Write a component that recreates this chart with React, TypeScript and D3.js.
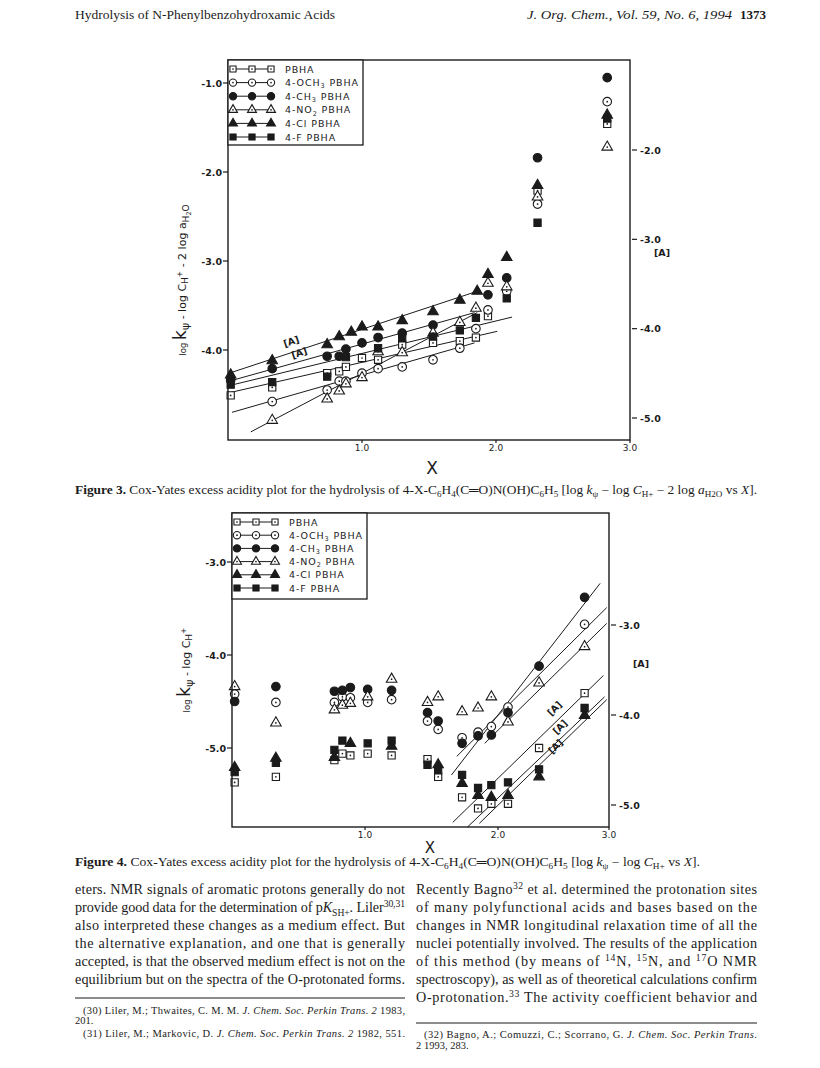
import React from 'react';
import * as d3 from 'd3';

type Pt = [number, number];
type Seg = [number, number, number, number];

const INK = '#1b1b1b';
const PLOT_FONT = 'DejaVu Sans, sans-serif';
const TEXT_FONT = 'Liberation Serif, serif';

// series shared by both figures
const SERIES_LABELS = ['PBHA', '4-OCH_{3} PBHA', '4-CH_{3} PBHA', '4-NO_{2} PBHA', '4-Cl  PBHA', '4-F  PBHA'];
const SERIES_MARKS = ['squareOpen', 'circleOpen', 'circleFilled', 'triangleOpen', 'triangleFilled', 'squareFilled'];

// ---------- Figure 3 : log k - log CH+ - 2 log aH2O vs X ----------
const F3_PBHA: Pt[] = [[0.02, -4.51], [0.33, -4.42], [0.74, -4.26], [0.83, -4.24], [0.88, -4.19], [1.0, -4.09], [1.12, -4.11], [1.3, -3.94], [1.53, -3.92], [1.73, -3.9], [1.85, -3.86], [1.94, -3.62], [2.31, -2.21], [2.83, -1.46]];
const F3_OME: Pt[] = [[0.33, -4.58], [0.74, -4.45], [0.83, -4.35], [0.88, -4.35], [1.0, -4.26], [1.12, -4.21], [1.3, -4.19], [1.53, -4.11], [1.73, -3.98], [1.85, -3.76], [1.94, -3.55], [2.08, -3.34], [2.31, -2.36], [2.83, -1.21]];
const F3_ME: Pt[] = [[0.02, -4.34], [0.33, -4.21], [0.74, -4.07], [0.83, -4.07], [0.88, -3.99], [1.0, -3.92], [1.12, -3.86], [1.3, -3.81], [1.53, -3.72], [1.94, -3.38], [2.08, -3.19], [2.31, -1.84], [2.83, -0.94]];
const F3_NO2: Pt[] = [[0.33, -4.79], [0.74, -4.55], [0.83, -4.46], [0.88, -4.38], [1.0, -4.31], [1.12, -4.02], [1.3, -4.03], [1.53, -3.81], [1.73, -3.69], [1.85, -3.53], [1.94, -3.25], [2.08, -3.29], [2.31, -2.28], [2.83, -1.72]];
const F3_CL: Pt[] = [[0.02, -4.28], [0.33, -4.12], [0.74, -3.94], [0.83, -3.85], [0.92, -3.8], [1.0, -3.74], [1.12, -3.74], [1.3, -3.67], [1.53, -3.57], [1.73, -3.44], [1.86, -3.34], [1.94, -3.15], [2.08, -2.96], [2.31, -2.15], [2.83, -1.36]];
const F3_F: Pt[] = [[0.02, -4.39], [0.33, -4.36], [0.74, -4.3], [0.88, -4.08], [1.12, -3.98], [1.3, -3.87], [1.53, -3.85], [1.73, -3.78], [1.85, -3.64], [2.08, -3.42], [2.31, -2.57], [2.83, -1.4]];
const F3_POINTS = [F3_PBHA, F3_OME, F3_ME, F3_NO2, F3_CL, F3_F];
// fitted lines [x0, y0, x1, y1]
const F3_FITS: Seg[] = [
  [0.01, -4.48, 2.01, -3.79],
  [0.03, -4.7, 1.84, -3.92],
  [0.01, -4.35, 1.84, -3.58],
  [0.17, -4.92, 1.86, -3.58],
  [0.01, -4.26, 1.86, -3.34],
  [0.01, -4.4, 2.12, -3.63],
];
const F3_X_TICKS = [1, 2, 3];
const F3_Y_TICKS = [-1, -2, -3, -4];
const F3_YR_TICKS = [-2, -3, -4, -5];
const F3_A_NOTES: Pt[] = [[0.48, -3.94], [0.54, -4.07]];

// ---------- Figure 4 : log k - log CH+ vs X ----------
const F4_PBHA: Pt[] = [[0.02, -5.37], [0.33, -5.31], [0.77, -5.13], [0.83, -5.06], [0.89, -5.08], [1.02, -5.06], [1.2, -5.08], [1.47, -5.12], [1.55, -5.31], [1.73, -5.53], [1.85, -5.65], [1.95, -5.6], [2.09, -5.6], [2.37, -5.0], [2.78, -4.41]];
const F4_OME: Pt[] = [[0.02, -4.42], [0.33, -4.51], [0.77, -4.51], [0.83, -4.45], [0.89, -4.46], [1.02, -4.51], [1.2, -4.48], [1.47, -4.71], [1.55, -4.8], [1.73, -4.89], [1.85, -4.83], [1.95, -4.77], [2.09, -4.56], [2.78, -3.67]];
const F4_ME: Pt[] = [[0.02, -4.5], [0.33, -4.34], [0.77, -4.39], [0.83, -4.38], [0.89, -4.35], [1.02, -4.37], [1.2, -4.38], [1.47, -4.62], [1.55, -4.71], [1.73, -4.95], [1.85, -4.87], [1.95, -4.86], [2.09, -4.62], [2.37, -4.12], [2.78, -3.38]];
const F4_NO2: Pt[] = [[0.02, -4.34], [0.33, -4.73], [0.77, -4.59], [0.83, -4.54], [0.89, -4.52], [1.02, -4.45], [1.2, -4.26], [1.47, -4.51], [1.55, -4.45], [1.73, -4.61], [1.85, -4.57], [1.95, -4.45], [2.09, -4.72], [2.37, -4.3], [2.78, -3.91]];
const F4_CL: Pt[] = [[0.02, -5.21], [0.33, -5.11], [0.77, -5.1], [0.89, -4.95], [1.2, -4.98], [1.55, -5.18], [1.73, -5.38], [1.85, -5.51], [1.95, -5.53], [2.09, -5.51], [2.37, -5.31], [2.78, -4.65]];
const F4_F: Pt[] = [[0.02, -5.26], [0.33, -5.16], [0.77, -5.02], [0.83, -4.92], [1.02, -4.95], [1.2, -4.92], [1.47, -5.18], [1.55, -5.24], [1.73, -5.29], [1.85, -5.43], [1.95, -5.4], [2.09, -5.37], [2.37, -5.23], [2.78, -4.57]];
const F4_POINTS = [F4_PBHA, F4_OME, F4_ME, F4_NO2, F4_CL, F4_F];
const F4_FITS: Seg[] = [
  [1.66, -5.8, 2.95, -4.22],
  [1.69, -5.09, 2.98, -3.49],
  [1.65, -5.29, 2.92, -3.23],
  [1.9, -4.95, 2.98, -3.66],
  [1.86, -5.81, 2.98, -4.48],
  [1.77, -5.85, 2.96, -4.45],
];
const F4_X_TICKS = [1, 2, 3];
const F4_Y_TICKS = [-3, -4, -5];
const F4_YR_TICKS = [-3, -4, -5];
const F4_A_NOTES: Pt[] = [[2.53, -4.6], [2.58, -4.8], [2.54, -5.01]];

// ---------- page text ----------
const HEADER_LEFT = 'Hydrolysis of N-Phenylbenzohydroxamic Acids';
const HEADER_RIGHT = 'J. Org. Chem., Vol. 59, No. 6, 1994';
const PAGE_NO = '1373';
const CAPTION_3 = '#Figure 3.#  Cox-Yates excess acidity plot for the hydrolysis of 4-X-C_{6}H_{4}(C═O)N(OH)C_{6}H_{5} [log *k*_{ψ} − log *C*_{H+} − 2 log *a*_{H2O} vs *X*].';
const CAPTION_4 = '#Figure 4.#  Cox-Yates excess acidity plot for the hydrolysis of 4-X-C_{6}H_{4}(C═O)N(OH)C_{6}H_{5} [log *k*_{ψ} − log *C*_{H+} vs *X*].';
const LEFT_LINES = [
  'eters. NMR signals of aromatic protons generally do not',
  'provide good data for the determination of p*K*_{SH+}. Liler^{30,31}',
  'also interpreted these changes as a medium effect. But',
  'the alternative explanation, and one that is generally',
  'accepted, is that the observed medium effect is not on the',
  'equilibrium but on the spectra of the O-protonated forms.',
];
const RIGHT_LINES = [
  'Recently Bagno^{32} et al. determined the protonation sites',
  'of many polyfunctional acids and bases based on the',
  'changes in NMR longitudinal relaxation time of all the',
  'nuclei potentially involved. The results of the application',
  'of this method (by means of ^{14}N, ^{15}N, and ^{17}O NMR',
  'spectroscopy), as well as of theoretical calculations confirm',
  'O-protonation.^{33}  The activity coefficient behavior and',
];
const FOOT_LEFT = [
  '(30) Liler, M.; Thwaites, C. M. M. *J. Chem. Soc. Perkin Trans. 2* 1983,',
  '201.',
  '(31) Liler, M.; Markovic, D. *J. Chem. Soc. Perkin Trans. 2* 1982, 551.',
];
const FOOT_RIGHT = [
  '(32) Bagno, A.; Comuzzi, C.; Scorrano, G. *J. Chem. Soc. Perkin Trans.*',
  '2 1993, 283.',
];

// tiny markup: ^{sup} _{sub} *italic* #bold#
function rich(s: string, fs: number) {
  const parts = s.split(/(\^\{[^}]*\}|_\{[^}]*\}|\*[^*]+\*|#[^#]+#)/).filter(Boolean);
  let shift = 0;
  return parts.map((p, i) => {
    if (p.startsWith('^{') || p.startsWith('_{')) {
      const off = p[0] === '^' ? -fs * 0.38 : fs * 0.25;
      const dy = off - shift;
      shift = off;
      return <tspan key={i} dy={dy} fontSize={fs * 0.68}>{p.slice(2, -1)}</tspan>;
    }
    const dy = -shift;
    shift = 0;
    if (p.startsWith('*')) return <tspan key={i} dy={dy} fontStyle="italic">{p.slice(1, -1)}</tspan>;
    if (p.startsWith('#')) return <tspan key={i} dy={dy} fontWeight="bold">{p.slice(1, -1)}</tspan>;
    return <tspan key={i} dy={dy}>{p}</tspan>;
  });
}

function Marker({ kind, x, y, k = 1 }: { kind: string; x: number; y: number; k?: number }) {
  const shape = kind.startsWith('square') ? d3.symbolSquare : kind.startsWith('circle') ? d3.symbolCircle : d3.symbolTriangle;
  const filled = kind.endsWith('Filled');
  const base = shape === d3.symbolTriangle ? 48 : shape === d3.symbolSquare ? 52 : 58;
  const d = d3.symbol().type(shape).size(base * k * k)() || '';
  return (
    <g transform={`translate(${x},${y})`}>
      <path d={d} fill={filled ? INK : '#fff'} stroke={INK} strokeWidth={1.1} />
      {!filled && <circle r={0.85} fill={INK} />}
    </g>
  );
}

interface PanelProps {
  x: d3.ScaleLinear<number, number>;
  y: d3.ScaleLinear<number, number>;
  yr: d3.ScaleLinear<number, number>;
  top: number;
  bottom: number;
  points: Pt[][];
  fits: Seg[];
  xTicks: number[];
  yTicks: number[];
  yrTicks: number[];
  notes: Pt[];
  noteAngle: number;
  rightA: number;
  legendW: number;
  legendH: number;
  legendStep: number;
}

function Panel(p: PanelProps) {
  const left = p.x(0);
  const right = p.x(3);
  const line = d3.line<Pt>().x(d => p.x(d[0])).y(d => p.y(d[1]));
  return (
    <g fontFamily={PLOT_FONT} fill={INK}>
      {p.fits.map((f, i) => (
        <path key={'f' + i} d={line([[f[0], f[1]], [f[2], f[3]]]) || ''} stroke={INK} strokeWidth={1} fill="none" />
      ))}
      {p.points.map((s, i) => s.map((d, j) => <Marker key={i + '-' + j} kind={SERIES_MARKS[i]} x={p.x(d[0])} y={p.y(d[1])} />))}
      <rect x={left} y={p.top} width={right - left} height={p.bottom - p.top} fill="none" stroke={INK} strokeWidth={1.4} />
      {p.yTicks.map(t => (
        <g key={'yl' + t}>
          <line x1={left - 5} x2={left} y1={p.y(t)} y2={p.y(t)} stroke={INK} strokeWidth={1.2} />
          <text x={left - 6} y={p.y(t) + 3.5} textAnchor="end" fontSize={9.5} fontWeight="bold">{t.toFixed(1)}</text>
        </g>
      ))}
      {p.yrTicks.map(t => (
        <g key={'yr' + t}>
          <line x1={right + 2} x2={right + 7} y1={p.yr(t)} y2={p.yr(t)} stroke={INK} strokeWidth={1.2} />
          <text x={right + 10} y={p.yr(t) + 3.5} fontSize={9.5} fontWeight="bold">{t.toFixed(1)}</text>
        </g>
      ))}
      <text x={right + 24} y={p.yr(p.rightA) + 4} fontSize={9.5} fontWeight="bold">[A]</text>
      {p.xTicks.map(t => (
        <g key={'x' + t}>
          <line x1={p.x(t)} x2={p.x(t)} y1={p.bottom} y2={p.bottom + 3} stroke={INK} strokeWidth={1.2} />
          <text x={p.x(t)} y={p.bottom + 11} textAnchor="middle" fontSize={9}>{t.toFixed(1)}</text>
        </g>
      ))}
      {p.notes.map((n, i) => (
        <text key={'n' + i} transform={`translate(${p.x(n[0])},${p.y(n[1])}) rotate(${p.noteAngle})`} textAnchor="middle" fontSize={9.5} fontWeight="bold">[A]</text>
      ))}
      <rect x={left} y={p.top} width={p.legendW} height={p.legendH} fill="#fff" stroke={INK} strokeWidth={1.3} />
      {SERIES_LABELS.map((lab, i) => {
        const yy = p.top + 9 + i * p.legendStep;
        return (
          <g key={'lg' + i}>
            <line x1={left + 5} x2={left + 43} y1={yy} y2={yy} stroke={INK} strokeWidth={1} />
            {[0, 1, 2].map(k => <Marker key={k} kind={SERIES_MARKS[i]} x={left + 5 + k * 19} y={yy} k={0.85} />)}
            <text x={left + 57} y={yy + 3.5} fontSize={9.5} letterSpacing={0.9}>{rich(lab, 9.5)}</text>
          </g>
        );
      })}
    </g>
  );
}

function Lines({ lines, x, ys, ws, fs, indent = [] }: { lines: string[]; x: number; ys: number[]; ws: (number | null)[]; fs: number; indent?: number[] }) {
  return (
    <g fontFamily={TEXT_FONT} fontSize={fs} fill={INK}>
      {lines.map((l, i) => {
        const w = ws[i];
        const dx = indent[i] || 0;
        return w ? (
          <text key={i} x={x + dx} y={ys[i]} textLength={w - dx} lengthAdjust="spacing">{rich(l, fs)}</text>
        ) : (
          <text key={i} x={x + dx} y={ys[i]}>{rich(l, fs)}</text>
        );
      })}
    </g>
  );
}

export default function App() {
  const x3 = d3.scaleLinear().domain([0, 3]).range([228, 630]);
  const y3 = d3.scaleLinear().domain([-1, -4]).range([83, 350]);
  const y3r = d3.scaleLinear().domain([-2, -5]).range([150, 418]);
  const x4 = d3.scaleLinear().domain([0, 1, 2, 3]).range([232, 365, 498, 609]);
  const y4 = d3.scaleLinear().domain([-3, -5]).range([562, 748]);
  const y4r = d3.scaleLinear().domain([-3, -5]).range([625, 805]);
  const bodyY = (n: number) => d3.range(n).map(i => 894 + i * 18);

  return (
    <svg width={820} height={1068} style={{ position: 'absolute', left: 0, top: 0, background: '#fff' }}>
      <rect width={820} height={1068} fill="#fff" />
      <g fontFamily={TEXT_FONT} fontSize={13} fill={INK}>
        <text x={75} y={19} textLength={260} lengthAdjust="spacingAndGlyphs">{HEADER_LEFT}</text>
        <text x={527} y={19} fontStyle="italic" textLength={205} lengthAdjust="spacingAndGlyphs">{HEADER_RIGHT}</text>
        <text x={766} y={19} textAnchor="end" fontWeight="bold">{PAGE_NO}</text>
      </g>

      <Panel x={x3} y={y3} yr={y3r} top={60} bottom={440} points={F3_POINTS} fits={F3_FITS}
        xTicks={F3_X_TICKS} yTicks={F3_Y_TICKS} yrTicks={F3_YR_TICKS} notes={F3_A_NOTES} noteAngle={-18}
        rightA={-3.14} legendW={135} legendH={85} legendStep={13.6} />
      <text transform="translate(186,280) rotate(-90)" textAnchor="middle" fontFamily={PLOT_FONT} fontSize={11} fill={INK}>
        <tspan fontSize={8.5}>log </tspan><tspan fontSize={17}>k</tspan><tspan dy={3} fontSize={11}>ψ</tspan>
        <tspan dy={-3}> - log  C</tspan><tspan dy={2} fontSize={9}>H</tspan><tspan dy={-6} fontSize={7.5}>+</tspan>
        <tspan dy={4}> - 2  log  a</tspan><tspan dy={3} fontSize={9}>H</tspan><tspan dy={2} fontSize={6.5}>2</tspan><tspan dy={-2} fontSize={9}>O</tspan>
      </text>
      <text x={432} y={474} textAnchor="middle" fontFamily={PLOT_FONT} fontSize={17} fill={INK}>X</text>
      <text x={75} y={494} fontFamily={TEXT_FONT} fontSize={11.5} fill={INK} textLength={682} lengthAdjust="spacingAndGlyphs">{rich(CAPTION_3, 11.5)}</text>

      <Panel x={x4} y={y4} yr={y4r} top={513} bottom={827} points={F4_POINTS} fits={F4_FITS}
        xTicks={F4_X_TICKS} yTicks={F4_Y_TICKS} yrTicks={F4_YR_TICKS} notes={F4_A_NOTES} noteAngle={-45}
        rightA={-3.42} legendW={135} legendH={86} legendStep={13.2} />
      <text transform="translate(190,670) rotate(-90)" textAnchor="middle" fontFamily={PLOT_FONT} fontSize={11} fill={INK}>
        <tspan fontSize={8.5}>log </tspan><tspan fontSize={17}>k</tspan><tspan dy={3} fontSize={11}>ψ</tspan>
        <tspan dy={-3}> - log  C</tspan><tspan dy={2} fontSize={9}>H</tspan><tspan dy={-6} fontSize={7.5}>+</tspan>
      </text>
      <text x={430} y={853} textAnchor="middle" fontFamily={PLOT_FONT} fontSize={15} fill={INK}>X</text>
      <text x={75} y={866} fontFamily={TEXT_FONT} fontSize={11.5} fill={INK} textLength={625} lengthAdjust="spacingAndGlyphs">{rich(CAPTION_4, 11.5)}</text>

      <Lines lines={LEFT_LINES} x={75} ys={bodyY(6)} ws={[330, 330, 330, 330, 330, 330]} fs={14.2} />
      <Lines lines={RIGHT_LINES} x={416} ys={bodyY(7)} ws={[341, 341, 341, 341, 341, 341, 341]} fs={14.2} />
      <line x1={75} x2={405} y1={998} y2={998} stroke={INK} strokeWidth={1.1} />
      <Lines lines={FOOT_LEFT} x={75} ys={[1014, 1024, 1037]} ws={[330, null, 330]} fs={10.5} indent={[8, 0, 8]} />
      <line x1={416} x2={757} y1={1023} y2={1023} stroke={INK} strokeWidth={1.1} />
      <Lines lines={FOOT_RIGHT} x={416} ys={[1038, 1049]} ws={[341, null]} fs={10.5} indent={[8, 0]} />
    </svg>
  );
}
